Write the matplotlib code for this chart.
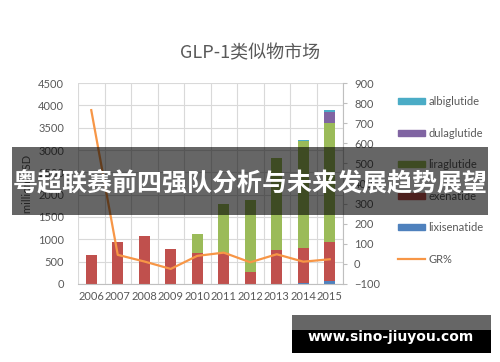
import matplotlib.pyplot as plt
import matplotlib.patches as mpatches
from matplotlib.lines import Line2D
import numpy as np

years = ['2006', '2007', '2008', '2009', '2010', '2011', '2012', '2013', '2014', '2015']
lixisenatide = [0, 0, 0, 0, 0, 0, 0, 0, 30, 65]
exenatide = [650, 950, 1075, 790, 700, 690, 260, 760, 770, 870]
liraglutide = [0, 0, 0, 0, 413, 1100, 1620, 2067, 2400, 2678]
dulaglutide = [0, 0, 0, 0, 0, 0, 0, 0, 0, 235]
albiglutide = [0, 0, 0, 0, 0, 0, 0, 0, 20, 50]
gr_pct = [765, 45, 12, -25, 40, 56, 8, 48, 11, 23]

series = [
    ('lixisenatide', lixisenatide, '#4F81BD'),
    ('exenatide', exenatide, '#C0504D'),
    ('liraglutide', liraglutide, '#9BBB59'),
    ('dulaglutide', dulaglutide, '#8064A2'),
    ('albiglutide', albiglutide, '#4BACC6'),
]
line_color = '#F79646'
text_color = '#595959'
grid_color = '#D9D9D9'

plt.rcParams['font.family'] = ['Lato', 'DejaVu Sans']

fig = plt.figure(figsize=(5, 3.62), dpi=100)
ax = fig.add_axes([0.156, 0.2155, 0.53, 0.5552])

x = np.arange(len(years))
bottom = np.zeros(len(years))
for name, vals, col in series:
    ax.bar(x, vals, 0.43, bottom=bottom, color=col, zorder=2)
    bottom += np.array(vals)

ax.set_xlim(-0.5, len(years) - 0.5)
ax.set_ylim(0, 4500)
ax.set_yticks(np.arange(0, 4501, 500))
ax.set_xticks(x)
ax.set_xticklabels(years)
ax.set_xticks(np.arange(-0.5, len(years), 1), minor=True)
ax.grid(True, which='major', axis='y', color=grid_color, lw=0.8, zorder=0)
ax.grid(True, which='minor', axis='x', color=grid_color, lw=0.8, zorder=0)
ax.tick_params(axis='y', length=0, pad=10, labelsize=8, labelcolor=text_color)
ax.tick_params(axis='x', which='both', length=0, pad=5, labelsize=8, labelcolor=text_color)
for s in ['left', 'top', 'right']:
    ax.spines[s].set_visible(False)
ax.spines['bottom'].set_color('#BFBFBF')
ax.set_ylabel('million USD', fontsize=8, color=text_color, labelpad=4)

ax2 = ax.twinx()
ax2.plot(x, gr_pct, color=line_color, lw=1.6, zorder=3)
ax2.set_ylim(-100, 900)
ax2.set_yticks(np.arange(-100, 901, 100))
ax2.tick_params(axis='y', length=3, pad=5, labelsize=8, labelcolor=text_color, color='#BFBFBF')
for s in ['left', 'top', 'bottom']:
    ax2.spines[s].set_visible(False)
ax2.spines['right'].set_color('#BFBFBF')

fig.text(0.5, 1 - 53 / 362, 'GLP-1类似物市场', ha='center', va='center', fontsize=13,
         color=text_color, family=['Noto Sans CJK SC', 'DejaVu Sans'])

# legend order in picture: albiglutide, dulaglutide, liraglutide, exenatide, lixisenatide, GR%
handles = [mpatches.Patch(color=c) for n, v, c in series[::-1]]
labels = [n for n, v, c in series[::-1]]
handles.append(Line2D([], [], color=line_color, lw=1.6))
labels.append('GR%')
leg = fig.legend(handles, labels, loc='upper left', bbox_to_anchor=(0.795, 1 - 96 / 362),
                 frameon=False, fontsize=8, handlelength=2.5, handleheight=0.45,
                 labelspacing=1.85, handletextpad=0.3, borderaxespad=0, borderpad=0)
for t in leg.get_texts():
    t.set_color(text_color)

# overlay banner
fig.patches.append(mpatches.Rectangle((12 / 500, 1 - 215 / 362), 476 / 500, 68 / 362,
                                      transform=fig.transFigure, facecolor='black',
                                      alpha=0.6, edgecolor='none', zorder=10))
fig.text(0.5, 1 - 184 / 362, '粤超联赛前四强队分析与未来发展趋势展望', ha='center', va='center',
         fontsize=18, color='white', fontweight='bold',
         family=['Noto Sans CJK SC', 'DejaVu Sans'], zorder=11)

# watermark box
fig.patches.append(mpatches.Rectangle((292 / 500, 1 - 330 / 362), 199 / 500, 15 / 362,
                                      transform=fig.transFigure, facecolor='#666666',
                                      edgecolor='none', zorder=10))
fig.patches.append(mpatches.Rectangle((292 / 500, 1 - 353 / 362), 199 / 500, 23 / 362,
                                      transform=fig.transFigure, facecolor='black',
                                      edgecolor='none', zorder=10))
fig.text(391 / 500, 1 - 337 / 362, 'www.sino-jiuyou.com', ha='center', va='center',
         fontsize=10, color='white', fontweight='bold', family='DejaVu Sans', zorder=11)

fig.savefig('out.png', dpi=100)
